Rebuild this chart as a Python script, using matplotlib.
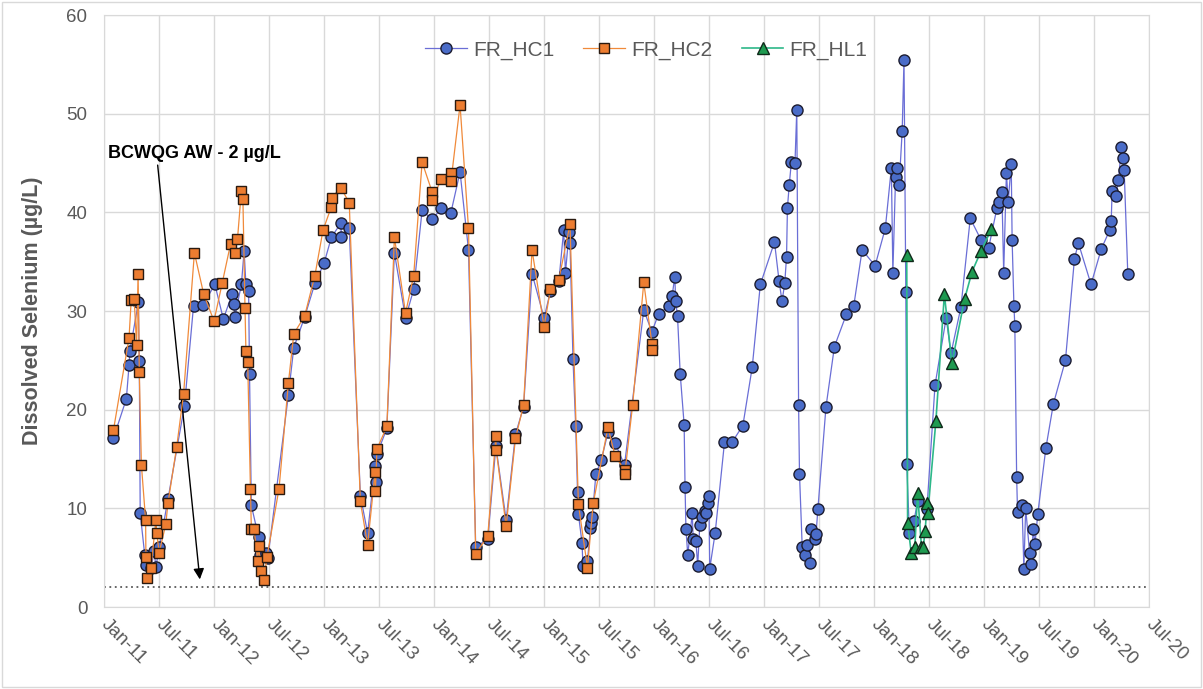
import matplotlib.pyplot as plt
import matplotlib.dates as mdates
import pandas as pd
from matplotlib.patches import Rectangle

plt.rcParams['font.family'] = ['Liberation Sans', 'DejaVu Sans']

# Dissolved selenium (ug/L) at the three Fording River stations
hc1_dates = [
    "2011-02-01", "2011-03-16", "2011-03-25", "2011-03-28", "2011-04-25", "2011-04-28", "2011-05-01", "2011-05-16", "2011-05-19", "2011-06-07",
    "2011-06-16", "2011-06-22", "2011-07-04", "2011-08-01", "2011-09-25", "2011-10-25", "2011-11-25", "2012-01-04", "2012-02-01", "2012-03-01",
    "2012-03-07", "2012-03-10", "2012-04-01", "2012-04-10", "2012-04-16", "2012-04-25", "2012-04-28", "2012-05-04", "2012-05-28", "2012-06-01",
    "2012-06-22", "2012-06-28", "2012-09-04", "2012-09-22", "2012-10-28", "2012-12-01", "2013-01-01", "2013-01-25", "2013-02-25", "2013-02-27",
    "2013-03-25", "2013-05-01", "2013-05-25", "2013-06-19", "2013-06-22", "2013-06-25", "2013-07-28", "2013-08-22", "2013-09-28", "2013-10-25",
    "2013-11-22", "2013-12-25", "2014-01-25", "2014-02-25", "2014-03-28", "2014-04-25", "2014-05-19", "2014-06-28", "2014-07-25", "2014-08-28",
    "2014-09-28", "2014-10-25", "2014-11-22", "2015-01-01", "2015-01-22", "2015-02-19", "2015-03-07", "2015-03-13", "2015-03-25", "2015-03-28",
    "2015-04-07", "2015-04-16", "2015-04-22", "2015-04-25", "2015-05-07", "2015-05-10", "2015-05-25", "2015-06-04", "2015-06-07", "2015-06-10",
    "2015-06-22", "2015-07-10", "2015-08-01", "2015-08-25", "2015-09-25", "2015-11-28", "2015-12-25", "2016-01-16", "2016-02-19", "2016-03-01",
    "2016-03-10", "2016-03-13", "2016-03-19", "2016-03-28", "2016-04-10", "2016-04-13", "2016-04-16", "2016-04-22", "2016-05-07", "2016-05-10",
    "2016-05-19", "2016-05-25", "2016-06-01", "2016-06-07", "2016-06-19", "2016-06-22", "2016-06-28", "2016-07-01", "2016-07-04", "2016-07-22",
    "2016-08-22", "2016-09-16", "2016-10-22", "2016-11-22", "2016-12-19", "2017-02-04", "2017-02-19", "2017-03-01", "2017-03-10", "2017-03-16",
    "2017-03-19", "2017-03-25", "2017-04-01", "2017-04-13", "2017-04-19", "2017-04-25", "2017-04-28", "2017-05-07", "2017-05-16", "2017-05-22",
    "2017-06-01", "2017-06-04", "2017-06-19", "2017-06-22", "2017-06-28", "2017-07-25", "2017-08-22", "2017-10-01", "2017-10-25", "2017-11-22",
    "2018-01-04", "2018-02-07", "2018-02-27", "2018-03-04", "2018-03-13", "2018-03-19", "2018-03-25", "2018-04-04", "2018-04-10", "2018-04-16",
    "2018-04-19", "2018-04-28", "2018-05-13", "2018-05-25", "2018-06-25", "2018-07-22", "2018-08-28", "2018-09-13", "2018-10-16", "2018-11-16",
    "2018-12-22", "2019-01-16", "2019-02-13", "2019-02-19", "2019-03-01", "2019-03-07", "2019-03-16", "2019-03-22", "2019-04-01", "2019-04-04",
    "2019-04-10", "2019-04-13", "2019-04-19", "2019-04-22", "2019-05-07", "2019-05-13", "2019-05-19", "2019-06-01", "2019-06-07", "2019-06-13",
    "2019-06-19", "2019-06-28", "2019-07-25", "2019-08-19", "2019-09-28", "2019-10-28", "2019-11-10", "2019-12-22", "2020-01-25", "2020-02-22",
    "2020-02-27", "2020-03-01", "2020-03-13", "2020-03-22", "2020-04-01", "2020-04-07", "2020-04-10", "2020-04-22",
]
hc1_values = [
    17.1, 21.1, 24.5, 26.0, 30.9, 24.9, 9.5, 5.3, 4.3, 4.0,
    5.7, 4.1, 6.1, 10.9, 20.4, 30.5, 30.6, 32.7, 29.2, 31.7,
    30.7, 29.4, 32.7, 36.1, 32.7, 32.0, 23.6, 10.3, 7.1, 5.3,
    5.5, 5.0, 21.5, 26.3, 29.4, 32.8, 34.9, 37.5, 38.9, 37.5,
    38.4, 11.3, 7.5, 14.3, 12.7, 15.5, 18.1, 35.9, 29.3, 32.2,
    40.2, 39.3, 40.4, 39.9, 44.1, 36.2, 6.1, 6.9, 16.3, 8.8,
    17.5, 20.3, 33.8, 29.3, 32.0, 33.0, 38.2, 33.9, 38.0, 36.9,
    25.1, 18.3, 11.7, 9.4, 6.5, 4.2, 4.7, 8.0, 8.5, 9.1,
    13.5, 14.9, 17.7, 16.6, 14.4, 30.1, 27.9, 29.7, 30.5, 31.5,
    33.5, 31.0, 29.5, 23.6, 18.5, 12.2, 7.9, 5.3, 9.5, 6.9,
    6.7, 4.2, 8.3, 9.1, 9.7, 9.5, 10.5, 11.3, 3.9, 7.5,
    16.7, 16.7, 18.4, 24.3, 32.7, 37.0, 33.1, 31.0, 32.8, 35.5,
    40.5, 42.8, 45.1, 45.0, 50.4, 20.5, 13.5, 6.1, 5.3, 6.3,
    4.5, 7.9, 6.9, 7.4, 9.9, 20.3, 26.4, 29.7, 30.5, 36.2,
    34.6, 38.4, 44.5, 33.9, 43.6, 44.5, 42.8, 48.3, 55.5, 31.9,
    14.5, 7.5, 8.7, 10.7, 9.9, 22.5, 29.3, 25.7, 30.4, 39.4,
    37.2, 36.4, 40.5, 41.1, 42.1, 33.9, 44.0, 41.1, 44.9, 37.2,
    30.5, 28.5, 13.2, 9.6, 10.3, 3.9, 10.0, 5.5, 4.4, 7.9,
    6.4, 9.4, 16.1, 20.6, 25.0, 35.3, 36.9, 32.7, 36.3, 38.2,
    39.1, 42.2, 41.7, 43.3, 46.6, 45.5, 44.3, 33.8,
]

hc2_dates = [
    "2011-02-01", "2011-03-25", "2011-04-01", "2011-04-11", "2011-04-19", "2011-04-24", "2011-04-28", "2011-05-05", "2011-05-19", "2011-05-20",
    "2011-05-25", "2011-06-06", "2011-06-22", "2011-06-25", "2011-07-03", "2011-07-25", "2011-08-01", "2011-08-30", "2011-09-22", "2011-10-28",
    "2011-11-28", "2012-01-01", "2012-01-28", "2012-02-25", "2012-03-10", "2012-03-19", "2012-04-01", "2012-04-06", "2012-04-13", "2012-04-16",
    "2012-04-22", "2012-05-01", "2012-05-04", "2012-05-13", "2012-05-25", "2012-05-28", "2012-06-06", "2012-06-14", "2012-06-25", "2012-08-04",
    "2012-09-04", "2012-09-22", "2012-10-28", "2012-12-01", "2012-12-28", "2013-01-25", "2013-01-26", "2013-02-25", "2013-03-25", "2013-05-01",
    "2013-05-25", "2013-06-19", "2013-06-20", "2013-06-25", "2013-07-28", "2013-08-22", "2013-09-28", "2013-10-25", "2013-11-22", "2013-12-25",
    "2013-12-26", "2014-01-25", "2014-02-25", "2014-02-26", "2014-03-28", "2014-04-25", "2014-05-19", "2014-06-28", "2014-07-25", "2014-07-26",
    "2014-08-28", "2014-09-28", "2014-10-25", "2014-11-22", "2015-01-01", "2015-01-22", "2015-02-19", "2015-03-28", "2015-04-25", "2015-05-25",
    "2015-06-13", "2015-08-01", "2015-08-25", "2015-09-25", "2015-09-26", "2015-10-22", "2015-11-28", "2015-12-25", "2015-12-26",
]
hc2_values = [
    17.9, 27.3, 31.1, 31.2, 26.6, 33.8, 23.8, 14.4, 8.8, 5.1,
    2.9, 4.0, 8.8, 7.5, 5.5, 8.4, 10.5, 16.2, 21.6, 35.9,
    31.7, 29.0, 32.8, 36.8, 35.9, 37.3, 42.2, 41.4, 30.3, 26.0,
    24.8, 12.0, 7.9, 7.9, 4.7, 6.2, 3.7, 2.7, 5.1, 12.0,
    22.7, 27.7, 29.5, 33.6, 38.2, 40.6, 41.5, 42.5, 41.0, 10.7,
    6.3, 13.7, 11.8, 16.0, 18.3, 37.5, 29.8, 33.6, 45.1, 42.1,
    41.3, 43.4, 44.0, 43.2, 50.9, 38.4, 5.4, 7.2, 17.3, 15.9,
    8.2, 17.1, 20.5, 36.2, 28.4, 32.2, 33.2, 38.8, 10.4, 4.0,
    10.5, 18.2, 15.3, 13.9, 13.5, 20.5, 32.9, 26.7, 26.1,
]

hl1_dates = [
    "2018-04-19", "2018-04-22", "2018-05-04", "2018-05-16", "2018-05-25", "2018-06-07", "2018-06-13", "2018-06-19", "2018-06-26",
    "2018-06-28", "2018-07-25", "2018-08-22", "2018-09-16", "2018-10-28", "2018-11-22", "2018-12-22", "2019-01-25",
]
hl1_values = [35.7, 8.5, 5.5, 6.1, 11.6, 6.1, 6.1, 7.7, 10.5, 9.5, 18.9, 31.7, 24.7, 31.2, 34.0, 36.1, 38.3]

GUIDELINE = 2  # BCWQG aquatic life guideline
GRID = '#D9D9D9'
TEXT = '#595959'

fig = plt.figure(figsize=(12.03, 6.89), dpi=100)
ax = fig.add_axes([0.0865, 0.119, 0.8685, 0.859])

ax.plot(pd.to_datetime(hc1_dates), hc1_values, color='#6A6ED6', lw=0.9,
        marker='o', ms=8, mfc='#4A6CC8', mec='#1C1C30', mew=1,
        label='FR_HC1', zorder=3)
ax.plot(pd.to_datetime(hc2_dates), hc2_values, color='#F08A3A', lw=0.9,
        marker='s', ms=7.5, mfc='#ED7D31', mec='#2A1A10', mew=1,
        label='FR_HC2', zorder=4)
ax.plot(pd.to_datetime(hl1_dates), hl1_values, color='#2DB889', lw=1.2,
        marker='^', ms=8.5, mfc='#1E9A50', mec='#0F2A1A', mew=1,
        label='FR_HL1', zorder=5)

# guideline line and its callout
ax.axhline(GUIDELINE, color=TEXT, lw=1.3, ls=(0, (1, 2)), zorder=2)
ax.text(pd.Timestamp('2011-01-14'), 46.0, 'BCWQG AW - 2 µg/L',
        fontsize=13, fontweight='bold', va='center', color='black')
ax.annotate('', xy=(pd.Timestamp('2011-11-15'), GUIDELINE + 0.8),
            xytext=(pd.Timestamp('2011-06-28'), 44.8),
            arrowprops=dict(arrowstyle='-|>', color='black', lw=1,
                            mutation_scale=16, shrinkA=0, shrinkB=0))

ax.set_xlim(pd.Timestamp('2011-01-01'), pd.Timestamp('2020-07-01'))
ax.set_ylim(0, 60)
ax.set_yticks(range(0, 61, 10))
ax.xaxis.set_major_locator(mdates.MonthLocator(bymonth=[1, 7]))
ax.xaxis.set_major_formatter(mdates.DateFormatter('%b-%y'))

ax.grid(color=GRID, lw=1)
ax.set_axisbelow(True)
for s in ax.spines.values():
    s.set_color(GRID)

ax.tick_params(axis='y', length=0, labelsize=13.5, labelcolor=TEXT, pad=12)
ax.tick_params(axis='x', length=0, labelsize=13.5, labelcolor=TEXT, pad=11)
for lbl in ax.get_xticklabels():
    lbl.set_rotation(-45)
    lbl.set_ha('left')
    lbl.set_va('center')
    lbl.set_rotation_mode('anchor')

ax.set_ylabel('Dissolved Selenium (µg/L)', fontsize=15.5, fontweight='bold',
              color=TEXT)
ax.yaxis.set_label_coords(-0.058, 0.5)

ax.legend(loc='center', bbox_to_anchor=(0.519, 0.941), ncol=3, frameon=False,
          fontsize=15, labelcolor=TEXT, handlelength=2.0, handletextpad=0.3,
          columnspacing=1.4)

fig.patches.append(Rectangle((0.002, 0.003), 0.996, 0.994,
                             transform=fig.transFigure, fill=False,
                             edgecolor=GRID, lw=1))

fig.savefig('out.png', dpi=100)
